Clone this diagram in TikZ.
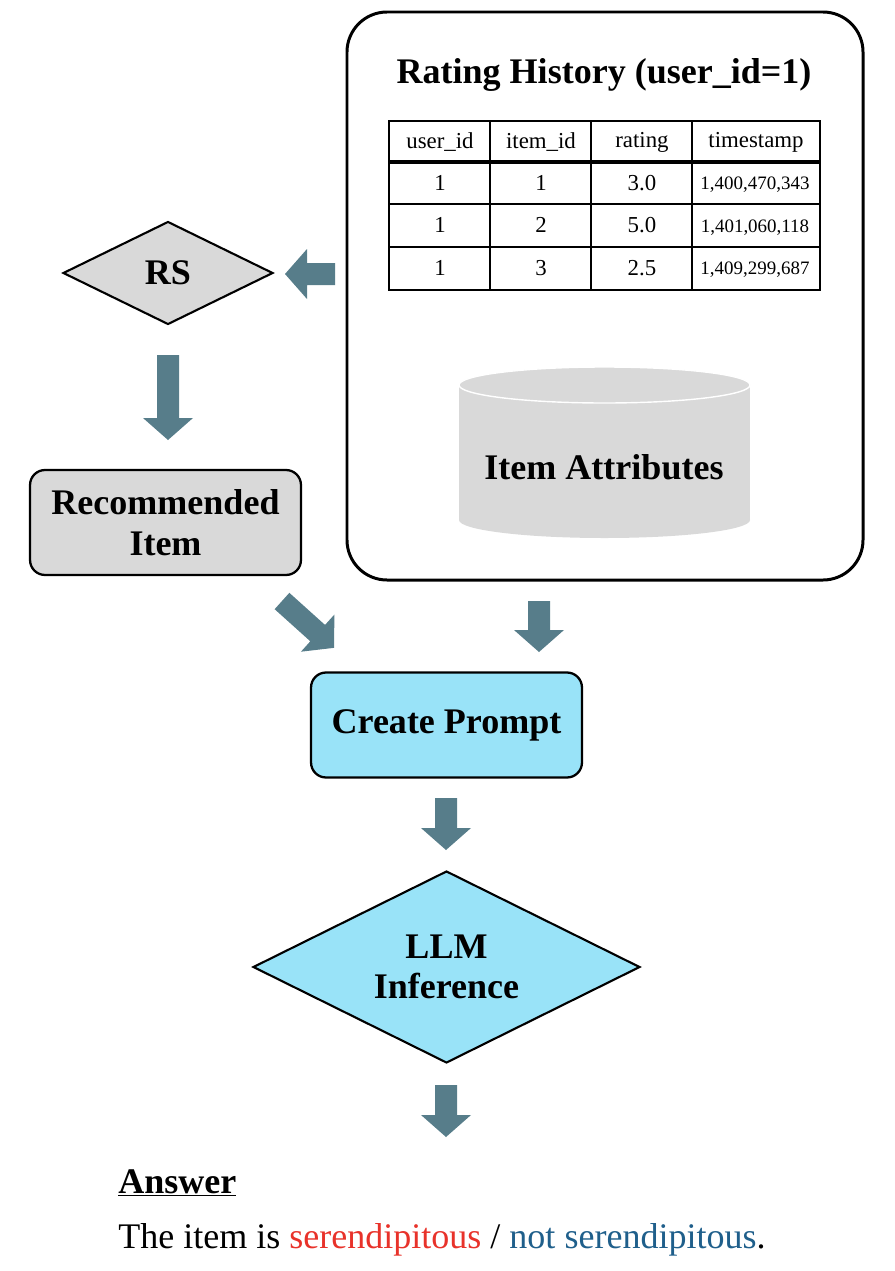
\documentclass[tikz,border=0pt]{standalone}
\usepackage{fontspec}
\setmainfont{Liberation Serif}
\usetikzlibrary{shapes.geometric,positioning}
\definecolor{arrowc}{HTML}{577D8A}
\definecolor{grayfill}{HTML}{D9D9D9}
\definecolor{cyanfill}{HTML}{99E3F8}
\definecolor{serred}{HTML}{E8322A}
\definecolor{serblue}{HTML}{1F5F8B}
\tikzset{
  pics/fat arrow/.style={code={
    \fill[arrowc] (0,-11) -- (#1-22,-11) -- (#1-22,-25) -- (#1,0)
      -- (#1-22,25) -- (#1-22,11) -- (0,11) -- cycle;}},
  step box/.style={rectangle,rounded corners=0.3cm,draw=black,line width=1.3pt,
    minimum width=5.42cm,minimum height=2.1cm,align=center,
    font=\fontsize{20.5}{23}\selectfont\bfseries},
  decision/.style={diamond,aspect=2,draw=black,line width=1.2pt,inner sep=0pt,align=center,
    font=\fontsize{20.5}{23}\selectfont\bfseries},
  cell/.style={font=\fontsize{13}{15}\selectfont},
}
\begin{document}
\begin{tikzpicture}[x=0.02cm,y=-0.02cm]
  \useasboundingbox (0,0) rectangle (894,1271);

  % data panel
  \draw[line width=1.7pt,rounded corners=0.8cm] (347,12) rectangle (863,580);
  \node[font=\fontsize{20.5}{24}\selectfont\bfseries] (title) at (604,75) {Rating History (user\_id=1)};

  % table
  \draw[line width=0.6pt] (389,121) rectangle (820,290);
  \foreach \x in {490,591,692} \draw[line width=0.6pt] (\x,121) -- (\x,290);
  \foreach \y in {204,247} \draw[line width=0.6pt] (389,\y) -- (820,\y);
  \draw[line width=2.2pt] (389,162) -- (820,162);
  \foreach \t/\x [count=\i] in {user\_id/440,item\_id/541,rating/642,timestamp/756}
    \node[cell] (h\i) at (\x,142) {\t};
  \foreach \a/\b/\c/\d [count=\r] in {1/1/3.0/{1,400,470,343},1/2/5.0/{1,401,060,118},1/3/2.5/{1,409,299,687}} {
    \node[cell] (r\r a) at (440,140+42.7*\r) {\a};
    \node[cell] (r\r b) at (541,140+42.7*\r) {\b};
    \node[cell] (r\r c) at (642,140+42.7*\r) {\c};
    \node[cell,font=\fontsize{10.8}{13}\selectfont] (r\r d) at (755,142+42.7*\r) {\d};
  }

  % cylinder
  \fill[grayfill] (459,385) rectangle (750,520);
  \fill[grayfill] (604.5,520) ellipse [x radius=145.5,y radius=18];
  \fill[grayfill] (604.5,385) ellipse [x radius=145.5,y radius=18];
  \draw[white,line width=0.8pt] (604.5,385) ellipse [x radius=145.5,y radius=18];
  \node[font=\fontsize{20.5}{23}\selectfont\bfseries] (attr) at (604,467) {Item Attributes};

  % flow
  \node[decision,fill=grayfill,minimum width=4.2cm,minimum height=2.06cm] (rs) at (168,273) {RS};
  \node[step box,fill=grayfill] (rec) at (165.5,522.5) {Recommended\\Item};
  \node[step box,fill=cyanfill] (prompt) at (446.5,725) {Create Prompt};
  \node[decision,fill=cyanfill,minimum width=7.74cm,minimum height=3.84cm] (llm) at (446.5,967) {LLM\\Inference};

  \pic at (335,274) [rotate=180] {fat arrow=50};
  \pic at (168,355) [rotate=-90] {fat arrow=85};
  \pic at (282,601) [rotate=-42] {fat arrow=70};
  \pic at (539,601) [rotate=-90] {fat arrow=51};
  \pic at (446,798) [rotate=-90] {fat arrow=52};
  \pic at (446,1085) [rotate=-90] {fat arrow=52};

  % answer
  \node[anchor=base west,inner sep=0pt,font=\fontsize{20.5}{23}\selectfont\bfseries] (ans) at (118,1193) {\underline{Answer}};
  \node[anchor=base west,inner sep=0pt,font=\fontsize{20.5}{23}\selectfont] (res) at (118,1248)
    {The item is \textcolor{serred}{serendipitous} / \textcolor{serblue}{not serendipitous}.};
\end{tikzpicture}
\end{document}
